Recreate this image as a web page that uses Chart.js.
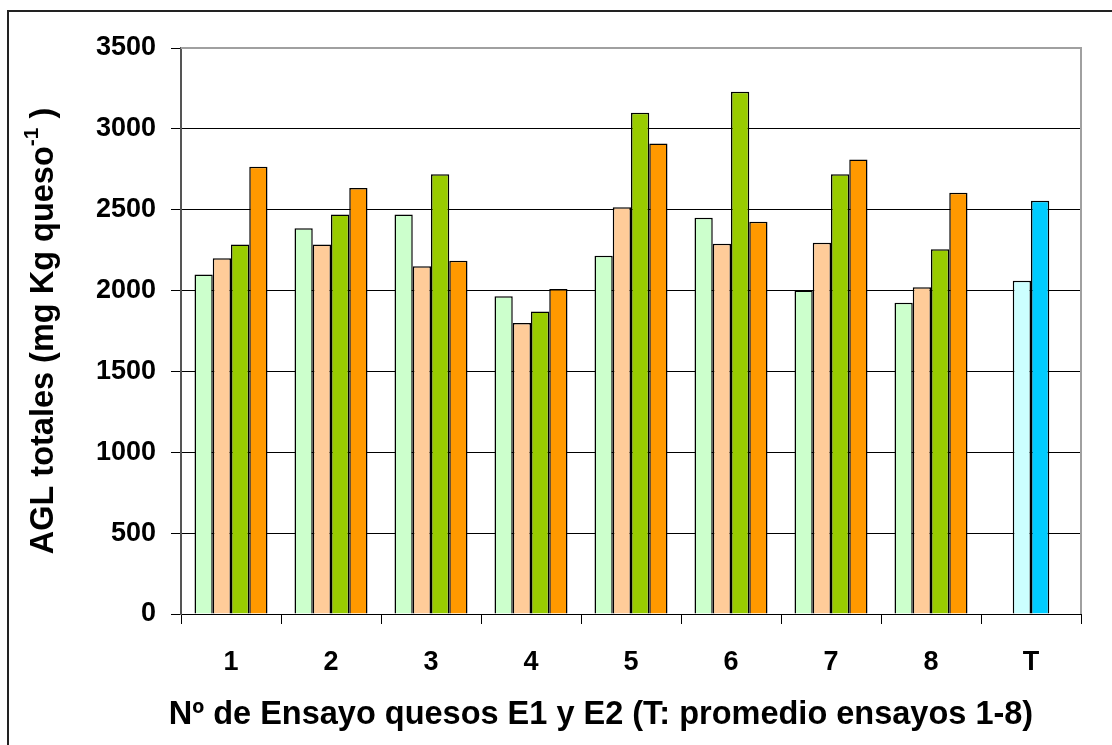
<!DOCTYPE html>
<html>
<head>
<meta charset="utf-8">
<script src="https://cdn.jsdelivr.net/npm/chart.js@4"></script>
<style>
  body { margin: 0; background: #fff; }
  #wrap { width: 1112px; height: 745px; }
</style>
</head>
<body>
<div id="wrap"><canvas id="chart" width="1112" height="745"></canvas></div>
<script>
// data
const categories = ['1', '2', '3', '4', '5', '6', '7', '8', 'T'];
const serieA = [2100, 2385, 2470, 1965, 2215, 2450, 2000, 1925];   // light green
const serieB = [2200, 2285, 2150, 1800, 2515, 2290, 2295, 2020];   // peach
const serieC = [2285, 2470, 2720, 1870, 3100, 3230, 2720, 2255];   // green
const serieD = [2765, 2635, 2185, 2010, 2910, 2425, 2810, 2605];   // orange
const promedioT = [2060, 2555];                                     // T: E1, E2 average
const yTicks = [0, 500, 1000, 1500, 2000, 2500, 3000, 3500];

const FONT = '"Liberation Sans", Arial, sans-serif';

function colors(base, tColor) {
    return categories.map((c, i) => i === 8 ? tColor : base);
}

// titles and frame drawn by hand
const extras = {
    id: 'extras',
    afterDraw(chart) {
        const ctx = chart.ctx;
        const a = chart.chartArea;
        ctx.save();
        // outer frame
        ctx.strokeStyle = '#222';
        ctx.lineWidth = 2;
        ctx.beginPath();
        ctx.moveTo(8, 745);
        ctx.lineTo(8, 11);
        ctx.lineTo(1112, 11);
        ctx.stroke();
        // plot border top / right
        ctx.strokeStyle = '#a0a0a0';
        ctx.lineWidth = 2;
        ctx.beginPath();
        ctx.moveTo(a.left, a.top);
        ctx.lineTo(a.right, a.top);
        ctx.lineTo(a.right, a.bottom);
        ctx.stroke();

        ctx.fillStyle = '#000';
        // x title
        ctx.font = 'bold 32.5px ' + FONT;
        ctx.textAlign = 'center';
        ctx.textBaseline = 'middle';
        ctx.fillText('Nº de Ensayo quesos E1 y E2 (T: promedio ensayos 1-8)', 601, 715);

        // y title with superscript
        const main = 'AGL totales (mg Kg queso';
        const sup = '-1';
        const end = ')';
        ctx.font = 'bold 32.5px ' + FONT;
        const w1 = ctx.measureText(main).width;
        const w3 = ctx.measureText(' ' + end).width;
        ctx.font = 'bold 21px ' + FONT;
        const w2 = ctx.measureText(sup).width;
        const total = w1 + w2 + w3;
        ctx.translate(44, (a.top + a.bottom) / 2);
        ctx.rotate(-Math.PI / 2);
        ctx.textAlign = 'left';
        ctx.textBaseline = 'middle';
        let x = -total / 2;
        ctx.font = 'bold 32.5px ' + FONT;
        ctx.fillText(main, x, 0);
        x += w1;
        ctx.font = 'bold 21px ' + FONT;
        ctx.fillText(sup, x, -12);
        x += w2;
        ctx.font = 'bold 32.5px ' + FONT;
        ctx.fillText(' ' + end, x, 0);
        ctx.restore();
    }
};

const ctx = document.getElementById('chart').getContext('2d');
new Chart(ctx, {
    type: 'bar',
    data: {
        labels: categories,
        datasets: [
            { label: 'A', data: serieA.concat([null]), backgroundColor: '#CCFFCC' },
            { label: 'B', data: serieB.concat([promedioT[0]]), backgroundColor: colors('#FFCC99', '#CCFFFF') },
            { label: 'C', data: serieC.concat([promedioT[1]]), backgroundColor: colors('#99CC00', '#00CCFF') },
            { label: 'D', data: serieD.concat([null]), backgroundColor: '#FF9900' }
        ].map(d => Object.assign(d, {
            borderColor: '#000',
            borderWidth: 1.5,
            borderSkipped: 'bottom',
            categoryPercentage: 0.73,
            barPercentage: 1.0
        }))
    },
    options: {
        responsive: false,
        animation: false,
        layout: { padding: { left: 70, top: 48, right: 31, bottom: 0 } },
        plugins: {
            legend: { display: false },
            tooltip: { enabled: false }
        },
        scales: {
            x: {
                afterFit(scale) { scale.height = 131; },
                grid: {
                    offset: true,
                    drawOnChartArea: false,
                    drawTicks: true,
                    tickLength: 10,
                    color: '#000'
                },
                border: { color: '#000', width: 1 },
                ticks: {
                    padding: 22,
                    color: '#000',
                    font: { family: FONT, size: 27, weight: 'bold' }
                }
            },
            y: {
                min: 0,
                max: 3500,
                afterFit(scale) { scale.width = 111; },
                afterBuildTicks(scale) { scale.ticks = yTicks.map(v => ({ value: v })); },
                grid: {
                    color: '#000',
                    lineWidth: 1,
                    tickLength: 10
                },
                border: { color: '#555', width: 2 },
                ticks: {
                    padding: 15,
                    color: '#000',
                    font: { family: FONT, size: 27, weight: 'bold' },
                    callback: v => String(v)
                }
            }
        }
    },
    plugins: [extras]
});
</script>
</body>
</html>
